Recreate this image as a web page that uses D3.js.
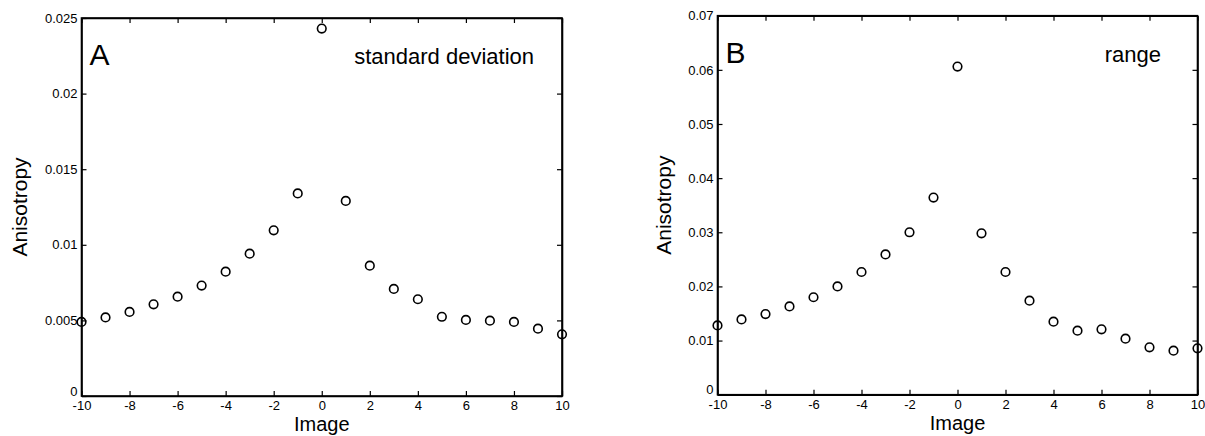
<!DOCTYPE html>
<html>
<head>
<meta charset="utf-8">
<script src="https://cdn.jsdelivr.net/npm/d3@7"></script>
<style>
  body { margin: 0; background: #fff; }
  svg text { font-family: "Liberation Sans", Arial, sans-serif; fill: #000; }
</style>
</head>
<body>
<div id="chart"></div>
<script>
// image offsets shared by both panels
const IMAGES = [-10, -9, -8, -7, -6, -5, -4, -3, -2, -1, 0, 1, 2, 3, 4, 5, 6, 7, 8, 9, 10];
const X_TICKS = [-10, -8, -6, -4, -2, 0, 2, 4, 6, 8, 10];
const X_TICK_LABELS = ['-10', '-8', '-6', '-4', '-2', '0', '2', '4', '6', '8', '10'];

// panel A: standard deviation
const stdValues = [0.0049, 0.0052, 0.00556, 0.00606, 0.00657, 0.0073, 0.00822, 0.00941, 0.01096, 0.0134,
  0.0243, 0.0129, 0.00862, 0.00708, 0.0064, 0.00524, 0.00503, 0.00498, 0.0049, 0.00445, 0.00408];
const stdTicks = [0, 0.005, 0.01, 0.015, 0.02, 0.025];
const stdTickLabels = ['0', '0.005', '0.01', '0.015', '0.02', '0.025'];

// panel B: range
const rangeValues = [0.0128, 0.0139, 0.0149, 0.0163, 0.018, 0.02, 0.02266, 0.0259, 0.030, 0.0364,
  0.0606, 0.0298, 0.02266, 0.01737, 0.01349, 0.01182, 0.01208, 0.01034, 0.00875, 0.00813, 0.00857];
const rangeTicks = [0, 0.01, 0.02, 0.03, 0.04, 0.05, 0.06, 0.07];
const rangeTickLabels = ['0', '0.01', '0.02', '0.03', '0.04', '0.05', '0.06', '0.07'];

const width = 1205;
const height = 436;
const FONT = '"Liberation Sans", Arial, sans-serif';

const svg = d3.select('#chart')
  .append('svg')
  .attr('width', width)
  .attr('height', height);

const drawPanel = (opts) => {
  const { left, right, top, bottom } = opts.box;
  const x = d3.scaleLinear().domain([-10, 10]).range([left, right]);
  const y = d3.scaleLinear().domain([0, opts.yMax]).range([bottom, top]);
  const g = svg.append('g');

  // frame
  g.append('rect')
    .attr('x', left)
    .attr('y', top)
    .attr('width', right - left)
    .attr('height', bottom - top)
    .attr('fill', 'none')
    .attr('stroke', '#000')
    .attr('stroke-width', 1.6);

  const fmtY = (d) => opts.tickLabels[opts.ticks.indexOf(d)];
  const fmtX = (d) => X_TICK_LABELS[X_TICKS.indexOf(d)];

  // bottom axis (labels) + top axis (ticks only)
  const xb = g.append('g')
    .attr('transform', `translate(0,${bottom})`)
    .call(d3.axisBottom(x).tickValues(X_TICKS).tickFormat(fmtX).tickSize(-5).tickSizeOuter(0).tickPadding(5));
  xb.selectAll('text').attr('font-size', 13).attr('font-family', FONT);
  g.append('g')
    .attr('transform', `translate(0,${top})`)
    .call(d3.axisTop(x).tickValues(X_TICKS).tickSize(-5).tickSizeOuter(0).tickFormat(''));

  // left axis (labels) + right axis (ticks only)
  const yl = g.append('g')
    .attr('transform', `translate(${left},0)`)
    .call(d3.axisLeft(y).tickValues(opts.ticks).tickFormat(fmtY).tickSize(-5).tickSizeOuter(0).tickPadding(4));
  yl.selectAll('text').attr('font-size', 13).attr('font-family', FONT);
  // lift the zero label clear of the -10 label
  yl.selectAll('.tick').filter((d) => d === 0).select('text').attr('y', -5);
  g.append('g')
    .attr('transform', `translate(${right},0)`)
    .call(d3.axisRight(y).tickValues(opts.ticks).tickSize(-5).tickSizeOuter(0).tickFormat(''));

  g.selectAll('.domain').attr('stroke-width', 1.6);
  g.selectAll('.tick line').attr('stroke-width', 1.2);

  // markers
  g.selectAll('circle.pt')
    .data(IMAGES.map((d, i) => ({ img: d, v: opts.values[i] })))
    .enter()
    .append('circle')
    .attr('class', 'pt')
    .attr('cx', (d) => x(d.img))
    .attr('cy', (d) => y(d.v))
    .attr('r', 4.3)
    .attr('fill', 'none')
    .attr('stroke', '#000')
    .attr('stroke-width', 1.6);

  // axis titles
  g.append('text')
    .attr('x', (left + right) / 2)
    .attr('y', bottom + 35)
    .attr('text-anchor', 'middle')
    .attr('font-size', 20)
    .text('Image');
  g.append('text')
    .attr('transform', `translate(${opts.yTitleX},${(top + bottom) / 2}) rotate(-90)`)
    .attr('text-anchor', 'middle')
    .attr('font-size', 21)
    .text('Anisotropy');

  // panel letter and caption
  g.append('text')
    .attr('x', left + 8)
    .attr('y', top + 47)
    .attr('font-size', 30)
    .text(opts.letter);
  g.append('text')
    .attr('x', opts.captionX)
    .attr('y', top + 46)
    .attr('text-anchor', 'end')
    .attr('font-size', 22)
    .text(opts.caption);
};

drawPanel({
  box: { left: 81.5, right: 562, top: 18, bottom: 396 },
  yMax: 0.025,
  ticks: stdTicks,
  tickLabels: stdTickLabels,
  values: stdValues,
  letter: 'A',
  caption: 'standard deviation',
  captionX: 534,
  yTitleX: 27,
});

drawPanel({
  box: { left: 717.5, right: 1197.5, top: 15.7, bottom: 394.7 },
  yMax: 0.07,
  ticks: rangeTicks,
  tickLabels: rangeTickLabels,
  values: rangeValues,
  letter: 'B',
  caption: 'range',
  captionX: 1161,
  yTitleX: 671,
});
</script>
</body>
</html>
